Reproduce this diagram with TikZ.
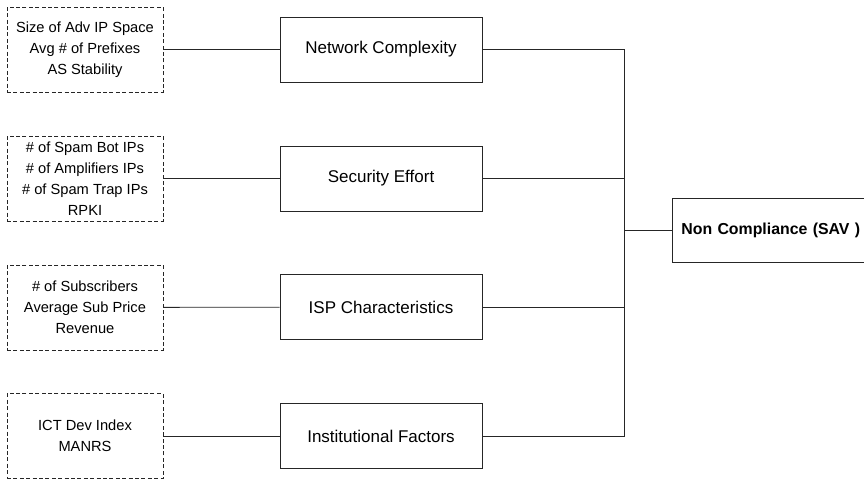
\documentclass[tikz,border=0pt]{standalone}
\usepackage{fontspec}
\setmainfont{Liberation Sans}
\usepackage{tikz}
\tikzset{every picture/.append style={x=0.75pt, y=-0.75pt}}
\tikzset{
    metricbox/.style={draw=black!85, dash pattern=on 3pt off 1.8pt, line width=0.6pt,
    	minimum width=117pt, minimum height=63.75pt, align=center,
    	font=\fontsize{11}{15.75}\selectfont},
    factorbox/.style={draw=black!85, line width=0.6pt, minimum width=151.5pt,
    	minimum height=48.75pt, font=\fontsize{12.75}{15}\selectfont},
    outcomebox/.style={draw=black!85, line width=0.6pt, anchor=west,
    	minimum height=48pt, text width=150pt, align=left, inner xsep=6.75pt,
    	font=\fontsize{11.9}{14}\selectfont\bfseries},
    link/.style={draw=black!85, line width=0.6pt}
}

\begin{document}
\begin{tikzpicture}
	\useasboundingbox (0,0) rectangle (864,480);
	\clip (0,0) rectangle (864,480);
	\node [metricbox] (m1) at (85,49.5) {Size of Adv IP Space\\Avg \# of Prefixes\\AS Stability};
	\node [metricbox] (m2) at (85,178.5) {\# of Spam Bot IPs\\\# of Amplifiers IPs\\\# of Spam Trap IPs\\RPKI};
	\node [metricbox] (m3) at (85,307.5) {\# of Subscribers\\Average Sub Price\\Revenue};
	\node [metricbox] (m4) at (85,436) {ICT Dev Index\\MANRS};
	\node [factorbox] (f1) at (381,49.5) {Network Complexity};
	\node [factorbox] (f2) at (381,178.5) {Security Effort};
	\node [factorbox] (f3) at (381,307) {ISP Characteristics};
	\node [factorbox] (f4) at (381,436) {Institutional Factors};
	\node [outcomebox] (nc) at (672,230) {Non Compliance (SAV )};
	\coordinate (bus) at (624,0);
	\draw [link] (m1) -- (f1); \draw [link] (m2) -- (f2);
	\draw [link] (m3) -- (f3); \draw [link] (m4) -- (f4);
	\draw [link] (f1.east) -- (bus |- f1.east) -- (bus |- f4.east) -- (f4.east);
	\draw [link] (f2.east) -- (bus |- f2.east); \draw [link] (f3.east) -- (bus |- f3.east);
	\draw [link] (bus |- nc.west) -- (nc.west);
\end{tikzpicture}
\end{document}
